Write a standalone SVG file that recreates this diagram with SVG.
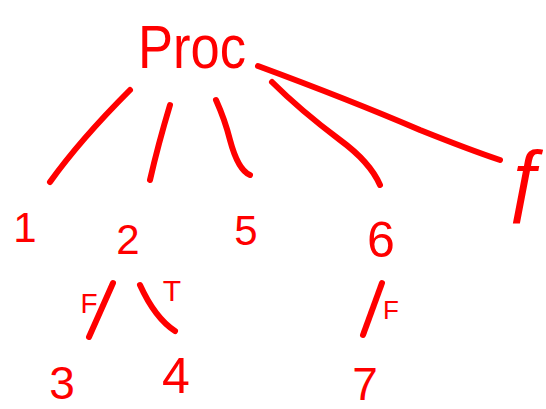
<svg xmlns="http://www.w3.org/2000/svg" width="546" height="409" viewBox="0 0 546 409">
<style>
.t{font-family:"Liberation Sans",Arial,sans-serif;fill:#ff0000;text-anchor:middle}
.c{fill:none;stroke:#ff0000;stroke-width:6;stroke-linecap:round;stroke-linejoin:round}
</style>
<rect width="546" height="409" fill="#ffffff"/>
<g id="connectors">
<path class="c" d="M130 90 Q80 140 50 182"/>
<path class="c" d="M170 105 Q158 145 150 180"/>
<path class="c" d="M216 100 Q225 120 230 140 Q238 170 250 175"/>
<path class="c" d="M272 82 Q300 110 340 140 Q370 162 380 185"/>
<path class="c" d="M258 66 Q350 100 420 130 Q470 150 500 160"/>
<path class="c" d="M113 283 L89 337"/>
<path class="c" d="M140 285 Q155 318 175 331"/>
<path class="c" d="M382 283 L363 335"/>
</g>
<g id="proc"><text class="t" x="192" y="68" font-size="62" textLength="108" lengthAdjust="spacingAndGlyphs">Proc</text></g>
<g id="n1"><text class="t" x="25" y="242" font-size="42">1</text></g>
<g id="n2"><text class="t" x="128" y="254" font-size="42">2</text></g>
<g id="n5"><text class="t" x="246" y="245" font-size="42">5</text></g>
<g id="n6"><text class="t" x="381" y="257" font-size="50">6</text></g>
<g id="n3"><text class="t" x="62" y="399" font-size="46">3</text></g>
<g id="n4"><text class="t" x="176" y="393" font-size="50">4</text></g>
<g id="n7"><text class="t" x="365" y="400" font-size="46">7</text></g>
<g id="nf"><text class="t" x="524" y="206" font-size="80" font-style="italic" font-family="Liberation Serif">ƒ</text></g>
<g id="labels">
<text class="t" x="89" y="313" font-size="28">F</text>
<text class="t" x="172" y="301" font-size="30">T</text>
<text class="t" x="391" y="319" font-size="26">F</text>
</g>
</svg>
